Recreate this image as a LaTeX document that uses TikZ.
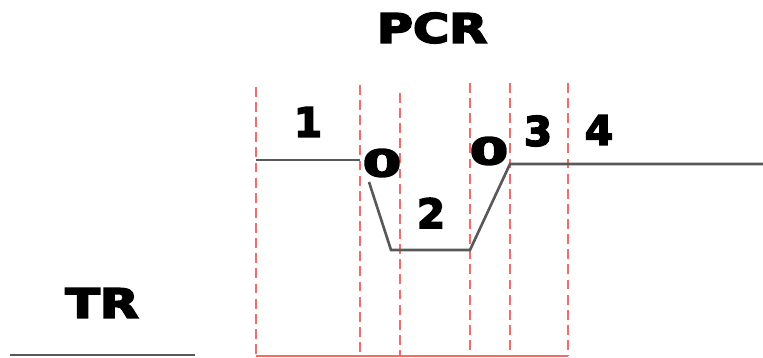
\documentclass[tikz,border=0pt]{standalone}
\usepackage{fontspec}
\setmainfont{DejaVu Sans}[BoldFeatures={FakeBold=4}]
\begin{document}
\begin{tikzpicture}[x=0.01cm,y=-0.01cm,
  guide/.style={draw=red!60, line width=0.85pt, dash pattern=on 2.8pt off 1.5pt},
  baseline/.style={draw=red!60, line width=0.7pt},
  profile/.style={draw=black!65, line width=0.75pt},
  heading/.style={font=\bfseries\fontsize{11.5}{13}\selectfont, inner sep=0pt},
  num/.style={font=\bfseries\fontsize{11.5}{13}\selectfont, inner sep=0pt},
  zero/.style={font=\bfseries\fontsize{10.5}{12}\selectfont, inner sep=0pt}]
\useasboundingbox (0,0) rectangle (763,358);

% phase boundaries
\coordinate (g1t) at (256,87);  \coordinate (g1b) at (256,356);
\coordinate (g2t) at (360,85);  \coordinate (g2b) at (360,356);
\coordinate (g3t) at (400,93);  \coordinate (g3b) at (400,356);
\coordinate (g4t) at (470,83);  \coordinate (g4b) at (470,356);
\coordinate (g5t) at (510,83);  \coordinate (g5b) at (510,356);
\coordinate (g6t) at (568,83);  \coordinate (g6b) at (568,356);
\foreach \i in {1,...,6} \draw[guide] (g\i t) -- (g\i b);
\draw[baseline] (g1b) -- (g6b);

% PCR level profile
\coordinate (p1) at (256,160);
\coordinate (p2) at (360,160);
\coordinate (p3) at (369,182);
\coordinate (p4) at (391,250);
\coordinate (p5) at (470,250);
\coordinate (p6) at (510,164);
\coordinate (p7) at (763,164);
\draw[profile] (p1) -- (p2);
\draw[profile] (p3) -- (p4) -- (p5) -- (p6) -- (p7);

% TR level
\coordinate (t1) at (10,355);
\coordinate (t2) at (195,355);
\draw[profile] (t1) -- (t2);

% labels
\node[heading] (pcr) at (432,28) {\scalebox{1.22}[1]{PCR}};
\node[heading] (tr) at (102,303) {\scalebox{1.25}[1]{TR}};
\node[num] (n1) at (308,122) {1};
\node[num] (n2) at (431,213) {2};
\node[num] (n3) at (538,131) {3};
\node[num] (n4) at (599,130) {4};
\node[zero] (z1) at (382,163) {\scalebox{1.5}[1]{0}};
\node[zero] (z2) at (489,151) {\scalebox{1.5}[1]{0}};
\end{tikzpicture}
\end{document}
